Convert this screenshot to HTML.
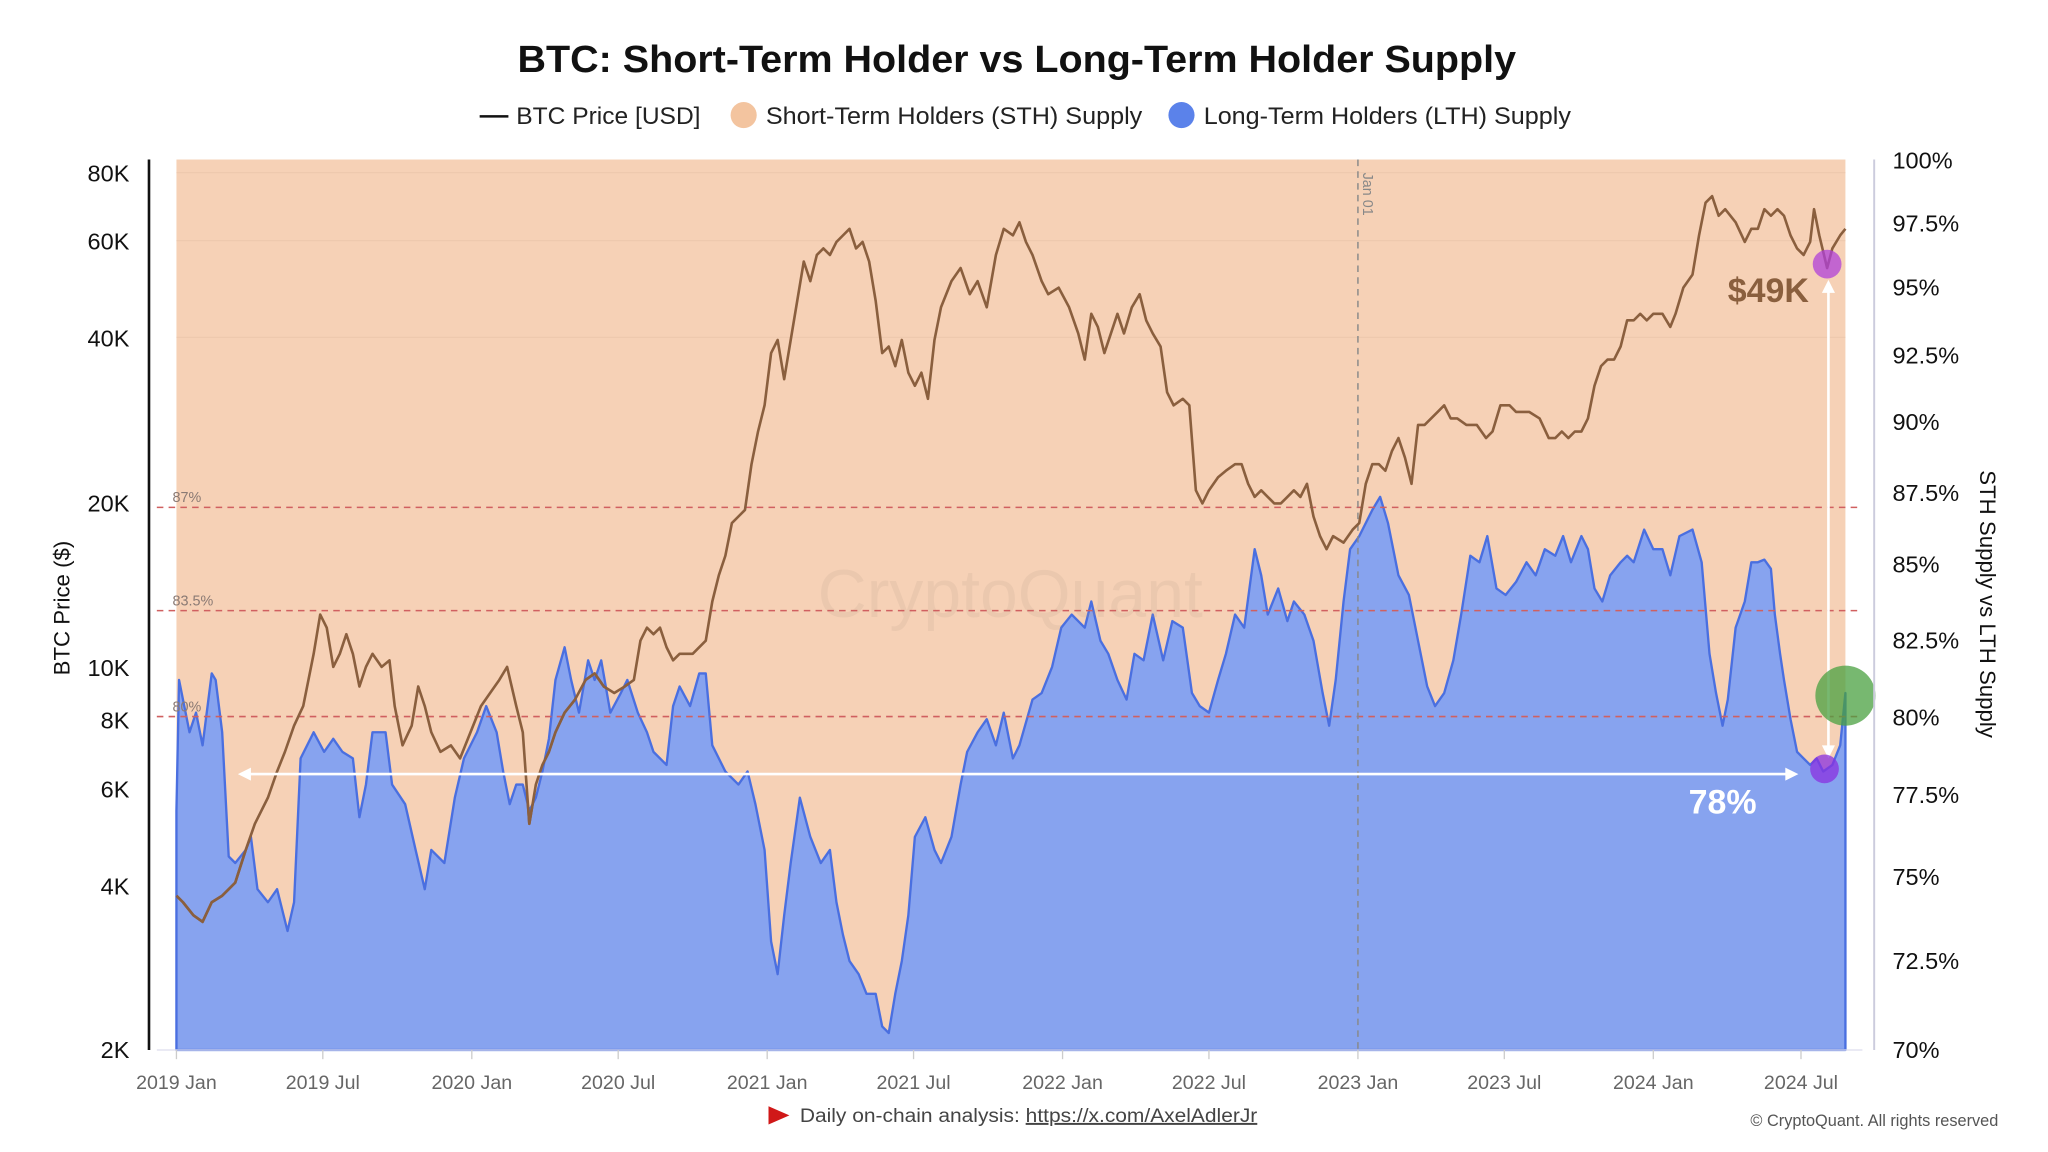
<!DOCTYPE html>
<html><head><meta charset="utf-8"><style>
html,body{margin:0;padding:0;background:#fff;}
svg{display:block;}
text{font-family:"Liberation Sans",sans-serif;}
</style></head><body>
<svg width="2048" height="1152" viewBox="0 0 1567 881" preserveAspectRatio="none" xmlns="http://www.w3.org/2000/svg">
<defs>
<clipPath id="lthclip"><polygon points="135,803 135,620 137,520 145,560 150,545 155,570 162,515 165,520 170,560 175,655 180,660 188,650 192,640 197,680 205,690 212,680 220,712 225,690 230,580 240,560 248,575 255,565 262,575 270,580 275,625 280,600 285,560 295,560 300,600 310,615 318,650 325,680 330,650 340,660 348,610 355,580 365,560 372,540 380,560 385,590 390,615 395,600 400,600 405,620 410,610 415,590 420,565 425,520 432,495 437,520 443,545 450,505 455,520 460,505 467,545 475,530 480,520 488,545 495,560 500,575 510,585 515,540 520,525 528,540 535,515 540,515 545,570 555,590 565,600 572,590 578,615 585,650 590,720 595,745 600,700 605,660 612,610 620,640 628,660 635,650 640,690 645,715 650,735 657,745 663,760 670,760 675,785 680,790 685,760 690,735 695,700 700,640 708,625 715,650 720,660 728,640 735,600 740,575 748,560 755,550 762,570 768,545 775,580 780,570 790,535 797,530 805,510 812,480 820,470 830,480 835,460 842,490 848,500 855,520 862,535 868,500 875,505 882,470 890,505 897,475 905,480 912,530 918,540 925,545 932,520 938,500 945,470 952,480 960,420 965,440 970,470 978,450 985,475 990,460 998,470 1005,490 1012,530 1017,555 1022,520 1028,460 1033,420 1040,410 1050,390 1056,380 1062,400 1070,440 1078,455 1085,490 1092,525 1098,540 1105,530 1112,505 1118,470 1125,425 1132,430 1138,410 1145,450 1152,455 1160,445 1168,430 1175,440 1182,420 1190,425 1196,410 1202,430 1210,410 1215,420 1220,450 1226,460 1232,440 1240,430 1245,425 1250,430 1258,405 1265,420 1272,420 1278,440 1285,410 1295,405 1302,430 1308,500 1313,530 1318,555 1322,535 1328,480 1335,460 1340,430 1345,430 1350,428 1355,435 1358,470 1362,500 1365,520 1370,550 1375,575 1380,580 1385,585 1390,580 1395,590 1402,585 1408,570 1412,530 1412,803"/></clipPath>
</defs>
<text x="778" y="55" text-anchor="middle" font-size="29" font-weight="bold" fill="#111" textLength="764" lengthAdjust="spacingAndGlyphs">BTC: Short-Term Holder vs Long-Term Holder Supply</text>
<line x1="367" y1="89" x2="389" y2="89" stroke="#111" stroke-width="2"/>
<text x="395" y="95" font-size="18.5" fill="#222" textLength="141" lengthAdjust="spacingAndGlyphs">BTC Price [USD]</text>
<circle cx="569" cy="88" r="10" fill="#f3c49f"/>
<text x="586" y="95" font-size="18.5" fill="#222" textLength="288" lengthAdjust="spacingAndGlyphs">Short-Term Holders (STH) Supply</text>
<circle cx="904" cy="88" r="10" fill="#5b82ea"/>
<text x="921" y="95" font-size="18.5" fill="#222" textLength="281" lengthAdjust="spacingAndGlyphs">Long-Term Holders (LTH) Supply</text>

<rect x="135" y="122" width="1277" height="681" fill="#f6d1b6"/>
<g stroke="#eec9ae" stroke-width="1">
<line x1="135" y1="132" x2="1412" y2="132"/><line x1="135" y1="184" x2="1412" y2="184"/><line x1="135" y1="258" x2="1412" y2="258"/>
</g>
<polygon points="135,803 135,620 137,520 145,560 150,545 155,570 162,515 165,520 170,560 175,655 180,660 188,650 192,640 197,680 205,690 212,680 220,712 225,690 230,580 240,560 248,575 255,565 262,575 270,580 275,625 280,600 285,560 295,560 300,600 310,615 318,650 325,680 330,650 340,660 348,610 355,580 365,560 372,540 380,560 385,590 390,615 395,600 400,600 405,620 410,610 415,590 420,565 425,520 432,495 437,520 443,545 450,505 455,520 460,505 467,545 475,530 480,520 488,545 495,560 500,575 510,585 515,540 520,525 528,540 535,515 540,515 545,570 555,590 565,600 572,590 578,615 585,650 590,720 595,745 600,700 605,660 612,610 620,640 628,660 635,650 640,690 645,715 650,735 657,745 663,760 670,760 675,785 680,790 685,760 690,735 695,700 700,640 708,625 715,650 720,660 728,640 735,600 740,575 748,560 755,550 762,570 768,545 775,580 780,570 790,535 797,530 805,510 812,480 820,470 830,480 835,460 842,490 848,500 855,520 862,535 868,500 875,505 882,470 890,505 897,475 905,480 912,530 918,540 925,545 932,520 938,500 945,470 952,480 960,420 965,440 970,470 978,450 985,475 990,460 998,470 1005,490 1012,530 1017,555 1022,520 1028,460 1033,420 1040,410 1050,390 1056,380 1062,400 1070,440 1078,455 1085,490 1092,525 1098,540 1105,530 1112,505 1118,470 1125,425 1132,430 1138,410 1145,450 1152,455 1160,445 1168,430 1175,440 1182,420 1190,425 1196,410 1202,430 1210,410 1215,420 1220,450 1226,460 1232,440 1240,430 1245,425 1250,430 1258,405 1265,420 1272,420 1278,440 1285,410 1295,405 1302,430 1308,500 1313,530 1318,555 1322,535 1328,480 1335,460 1340,430 1345,430 1350,428 1355,435 1358,470 1362,500 1365,520 1370,550 1375,575 1380,580 1385,585 1390,580 1395,590 1402,585 1408,570 1412,530 1412,803" fill="#87a3ef" stroke="#4a6fe0" stroke-width="1.8" stroke-linejoin="round"/>

<text x="773" y="472" text-anchor="middle" font-size="52" fill="#b49888" opacity="0.15">CryptoQuant</text>

<g stroke="#d06060" stroke-width="1.2" stroke-dasharray="5,4">
<line x1="120" y1="388" x2="1425" y2="388"/><line x1="120" y1="467" x2="1425" y2="467"/><line x1="120" y1="548" x2="1425" y2="548"/>
</g>
<g font-size="11" fill="#8a7a74">
<text x="132" y="384">87%</text><text x="132" y="463">83.5%</text><text x="132" y="544">80%</text>
</g>
<line x1="1039" y1="122" x2="1039" y2="803" stroke="#888" stroke-width="1.1" stroke-dasharray="5,4"/>
<text x="1043" y="132" font-size="11" fill="#888" transform="rotate(90 1043 132)">Jan 01</text>

<polyline id="price" fill="none" stroke="#8a5f3e" stroke-width="2" stroke-linejoin="round" points="135,685 140,690 148,700 155,705 162,690 170,685 180,675 188,650 195,630 205,610 212,590 218,575 225,555 232,540 240,500 245,470 250,480 255,510 260,500 265,485 270,500 275,525 280,510 285,500 292,510 298,505 302,540 308,570 315,555 320,525 325,540 330,560 337,575 345,570 352,580 360,560 368,540 375,530 382,520 388,510 395,540 400,560 405,630 410,600 415,585 420,575 425,560 432,545 440,535 448,520 455,515 462,525 470,530 478,525 485,520 490,490 495,480 500,485 505,480 510,495 515,505 520,500 530,500 540,490 545,460 550,440 555,425 560,400 565,395 570,390 575,355 580,330 585,310 590,270 595,260 600,290 605,260 610,230 615,200 620,215 625,195 630,190 635,195 640,185 645,180 650,175 655,190 660,185 665,200 670,230 675,270 680,265 685,280 690,260 695,285 700,295 705,285 710,305 715,260 720,235 728,215 735,205 742,225 748,215 755,235 762,195 768,175 775,180 780,170 785,185 790,195 797,215 802,225 810,220 818,235 825,255 830,275 835,240 840,250 845,270 850,255 855,240 860,255 866,235 872,225 877,245 882,255 888,265 893,300 898,310 905,305 910,310 915,375 920,385 925,375 932,365 938,360 945,355 950,355 955,370 960,380 965,375 970,380 975,385 980,385 985,380 990,375 995,380 1000,370 1005,395 1010,410 1015,420 1020,410 1028,415 1035,405 1040,400 1045,370 1050,355 1055,355 1060,360 1065,345 1070,335 1075,350 1080,370 1085,325 1090,325 1095,320 1100,315 1105,310 1110,320 1115,320 1122,325 1130,325 1137,335 1142,330 1148,310 1155,310 1160,315 1170,315 1178,320 1185,335 1190,335 1195,330 1200,335 1205,330 1210,330 1215,320 1220,295 1225,280 1230,275 1235,275 1240,265 1245,245 1250,245 1255,240 1260,245 1265,240 1272,240 1278,250 1282,240 1288,220 1295,210 1300,180 1305,155 1310,150 1315,165 1320,160 1328,170 1335,185 1340,175 1345,175 1350,160 1355,165 1360,160 1365,165 1370,180 1375,190 1380,195 1385,185 1388,160 1392,180 1398,205 1402,190 1408,180 1412,175"/>
<use href="#price" stroke="#1a2a5a" clip-path="url(#lthclip)"/>

<g stroke="#fff" stroke-width="2" fill="#fff">
<line x1="190" y1="592" x2="1368" y2="592"/>
<polygon points="182,592 192,587 192,597" stroke="none"/>
<polygon points="1376,592 1366,587 1366,597" stroke="none"/>
<line x1="1399" y1="222" x2="1399" y2="572"/>
<polygon points="1399,214 1394,224 1404,224" stroke="none"/>
<polygon points="1399,580 1394,570 1404,570" stroke="none"/>
</g>
<circle cx="1398" cy="202" r="11" fill="#b040d8" opacity="0.75"/>
<circle cx="1396" cy="588" r="11" fill="#8a30e0" opacity="0.75"/>
<circle cx="1412" cy="532" r="23" fill="#4aa040" opacity="0.75"/>
<text x="1353" y="231" text-anchor="middle" font-size="26" font-weight="bold" fill="#8a5f3e">$49K</text>
<text x="1318" y="622" text-anchor="middle" font-size="26" font-weight="bold" fill="#fff">78%</text>

<line x1="114" y1="122" x2="114" y2="803" stroke="#111" stroke-width="2"/>
<line x1="1434" y1="122" x2="1434" y2="803" stroke="#ccd" stroke-width="1.5"/>
<line x1="120" y1="803" x2="1425" y2="803" stroke="#dde" stroke-width="1"/>
<g font-size="18" fill="#111" text-anchor="end">
<text x="99" y="139">80K</text><text x="99" y="191">60K</text><text x="99" y="265">40K</text><text x="99" y="391">20K</text><text x="99" y="517">10K</text><text x="99" y="557">8K</text><text x="99" y="610">6K</text><text x="99" y="684">4K</text><text x="99" y="809">2K</text>
</g>
<g font-size="18" fill="#111">
<text x="1448" y="129">100%</text><text x="1448" y="177">97.5%</text><text x="1448" y="226">95%</text><text x="1448" y="278">92.5%</text><text x="1448" y="329">90%</text><text x="1448" y="383">87.5%</text><text x="1448" y="438">85%</text><text x="1448" y="496">82.5%</text><text x="1448" y="555">80%</text><text x="1448" y="614">77.5%</text><text x="1448" y="677">75%</text><text x="1448" y="741">72.5%</text><text x="1448" y="809">70%</text>
</g>
<text x="53" y="465" font-size="17" fill="#111" text-anchor="middle" transform="rotate(-90 53 465)">BTC Price ($)</text>
<text x="1515" y="462" font-size="17" fill="#111" text-anchor="middle" transform="rotate(90 1515 462)">STH Supply vs LTH Supply</text>
<g font-size="15" fill="#666" text-anchor="middle">
<text x="135" y="833">2019 Jan</text><text x="247" y="833">2019 Jul</text><text x="361" y="833">2020 Jan</text><text x="473" y="833">2020 Jul</text><text x="587" y="833">2021 Jan</text><text x="699" y="833">2021 Jul</text><text x="813" y="833">2022 Jan</text><text x="925" y="833">2022 Jul</text><text x="1039" y="833">2023 Jan</text><text x="1151" y="833">2023 Jul</text><text x="1265" y="833">2024 Jan</text><text x="1378" y="833">2024 Jul</text>
</g>
<g stroke="#ccc" stroke-width="1">
<line x1="135" y1="803" x2="135" y2="810"/><line x1="247" y1="803" x2="247" y2="810"/><line x1="361" y1="803" x2="361" y2="810"/><line x1="473" y1="803" x2="473" y2="810"/><line x1="587" y1="803" x2="587" y2="810"/><line x1="699" y1="803" x2="699" y2="810"/><line x1="813" y1="803" x2="813" y2="810"/><line x1="925" y1="803" x2="925" y2="810"/><line x1="1039" y1="803" x2="1039" y2="810"/><line x1="1151" y1="803" x2="1151" y2="810"/><line x1="1265" y1="803" x2="1265" y2="810"/><line x1="1378" y1="803" x2="1378" y2="810"/>
</g>
<polygon points="588,846 604,853 588,860" fill="#d01818"/>
<text x="612" y="858" font-size="15" fill="#444" textLength="350" lengthAdjust="spacingAndGlyphs">Daily on-chain analysis: <tspan text-decoration="underline">https://x.com/AxelAdlerJr</tspan></text>
<text x="1529" y="861" font-size="12.5" fill="#555" text-anchor="end">© CryptoQuant. All rights reserved</text>
</svg>
</body></html>
